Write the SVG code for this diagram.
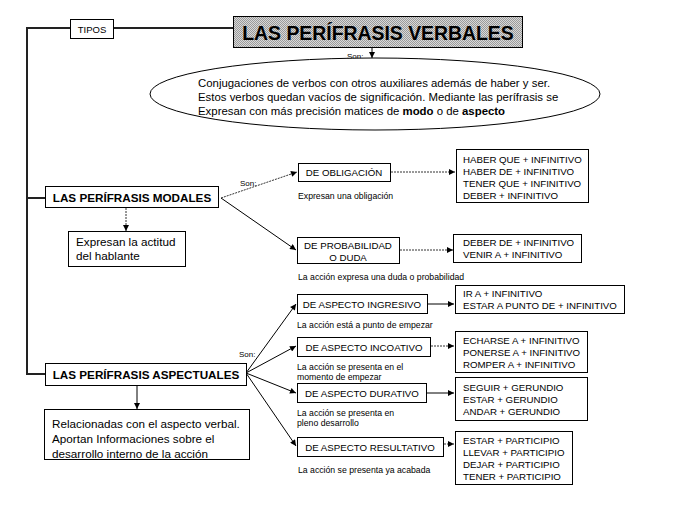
<svg xmlns="http://www.w3.org/2000/svg" width="698" height="521" viewBox="0 0 698 521">
<style>
text{font-family:"Liberation Sans",Arial,sans-serif;fill:#000}
.box{fill:#fff;stroke:#000;stroke-width:1}
.t12{font-size:11.7px}
.te{font-size:11.4px}
.t11{font-size:9.7px}
.t9{font-size:8.7px}
.son{font-size:8px}
.b{font-weight:bold}
.c{text-anchor:middle}
.ln{fill:none;stroke:#000;stroke-width:1}
.dot{fill:none;stroke:#333;stroke-width:1;stroke-dasharray:2,1}
.thick{fill:none;stroke:#222;stroke-width:2}
</style>
<defs>
<marker id="ah" viewBox="0 0 10 10" refX="10" refY="5" markerWidth="7" markerHeight="6" orient="auto" markerUnits="userSpaceOnUse">
<path d="M0,0 L10,5 L0,10 z" fill="#000"/>
</marker>
<pattern id="gray" width="2" height="2" patternUnits="userSpaceOnUse">
<rect width="2" height="2" fill="#d8d8d8"/>
<rect width="1" height="1" fill="#9a9a9a"/>
<rect x="1" y="1" width="1" height="1" fill="#9a9a9a"/>
</pattern>
</defs>

<g id="connectors">
<polyline class="thick" points="70,28 27,28 27,374 45,374"/>
<line class="thick" x1="27" y1="198" x2="45" y2="198"/>
<line class="thick" x1="114" y1="28" x2="233" y2="28"/>
<line class="ln" x1="372" y1="47" x2="372" y2="58" marker-end="url(#ah)"/>
<line class="dot" x1="126" y1="208" x2="126" y2="231" marker-end="url(#ah)"/>
<line class="dot" x1="221" y1="198" x2="297" y2="172" marker-end="url(#ah)"/>
<line class="ln" x1="221" y1="198" x2="296" y2="250" marker-end="url(#ah)"/>
<line class="dot" x1="391" y1="172" x2="455" y2="172" marker-end="url(#ah)"/>
<line class="dot" x1="400" y1="250" x2="453" y2="250" marker-end="url(#ah)"/>
<line class="ln" x1="137" y1="386" x2="137" y2="409" marker-end="url(#ah)"/>
<line class="ln" x1="246" y1="373" x2="296" y2="304" marker-end="url(#ah)"/>
<line class="ln" x1="246" y1="373" x2="296" y2="346" marker-end="url(#ah)"/>
<line class="ln" x1="246" y1="373" x2="296" y2="393" marker-end="url(#ah)"/>
<line class="ln" x1="246" y1="373" x2="296" y2="446" marker-end="url(#ah)"/>
<line class="ln" x1="428" y1="304" x2="454" y2="304" marker-end="url(#ah)"/>
<line class="dot" x1="431" y1="346" x2="454" y2="346" marker-end="url(#ah)"/>
<line class="ln" x1="427" y1="393" x2="454" y2="393" marker-end="url(#ah)"/>
<line class="dot" x1="444" y1="444" x2="454" y2="444" marker-end="url(#ah)"/>
<text class="son" x="347" y="59">Son:</text>
<text class="son" x="240" y="186">Son:</text>
<text class="son" x="239" y="357">Son:</text>
</g>

<g id="tipos">
<rect class="box" x="70.5" y="19.5" width="43" height="19"/>
<text class="c" x="92" y="32.5" style="font-size:9.5px">TIPOS</text>
</g>

<g id="titulo">
<rect x="233.5" y="16.5" width="289" height="31" fill="url(#gray)" stroke="#000"/>
<text class="b c" x="378" y="39.5" style="font-size:19.4px">LAS PERÍFRASIS VERBALES</text>
</g>

<g id="definicion">
<ellipse cx="375" cy="94" rx="225" ry="36" fill="#fff" stroke="#000"/>
<text class="te" x="198" y="87">Conjugaciones de verbos con otros auxiliares además de haber y ser.</text>
<text class="te" x="198" y="101">Estos verbos quedan vacíos de significación. Mediante las perífrasis se</text>
<text class="te" x="198" y="115">Expresan con más precisión matices de <tspan class="b">modo</tspan> o de <tspan class="b">aspecto</tspan></text>
</g>

<g id="modales">
<rect class="box" x="45.5" y="186.5" width="173" height="21"/>
<text class="t12 b c" x="132" y="201.5">LAS PERÍFRASIS MODALES</text>
</g>

<g id="actitud">
<rect class="box" x="68.5" y="231.5" width="117" height="35"/>
<text class="t12" x="76" y="246">Expresan la actitud</text>
<text class="t12" x="76" y="260">del hablante</text>
</g>

<g id="obligacion">
<rect class="box" x="298.5" y="163.5" width="92" height="18"/>
<text class="t11 c" x="344" y="176">DE OBLIGACIÓN</text>
<text class="t9" x="298" y="199">Expresan una obligación</text>
</g>

<g id="obligacion-formas">
<rect class="box" x="456.5" y="149.5" width="132" height="53"/>
<text class="t11" x="463" y="163">HABER QUE + INFINITIVO</text>
<text class="t11" x="463" y="175">HABER DE + INFINITIVO</text>
<text class="t11" x="463" y="187">TENER QUE + INFINITIVO</text>
<text class="t11" x="463" y="199">DEBER + INFINITIVO</text>
</g>

<g id="probabilidad">
<rect class="box" x="297.5" y="237.5" width="102" height="26"/>
<text class="t11 c" x="348" y="249">DE PROBABILIDAD</text>
<text class="t11 c" x="348" y="261">O DUDA</text>
<text class="t9" x="298" y="280">La acción expresa una duda o probabilidad</text>
</g>

<g id="probabilidad-formas">
<rect class="box" x="453.5" y="234.5" width="128" height="28"/>
<text class="t11" x="463" y="246">DEBER DE + INFINITIVO</text>
<text class="t11" x="463" y="258">VENIR A + INFINITIVO</text>
</g>

<g id="aspectuales">
<rect class="box" x="45.5" y="363.5" width="201" height="22"/>
<text class="t12 b c" x="146" y="379">LAS PERÍFRASIS ASPECTUALES</text>
</g>

<g id="relacionadas">
<rect class="box" x="44.5" y="409.5" width="205" height="50"/>
<text class="t12" x="52" y="428">Relacionadas con el aspecto verbal.</text>
<text class="t12" x="52" y="443">Aportan Informaciones sobre el</text>
<text class="t12" x="52" y="458">desarrollo interno de la acción</text>
</g>

<g id="ingresivo">
<rect class="box" x="297.5" y="294.5" width="130" height="19"/>
<text class="t11 c" x="362" y="308">DE ASPECTO INGRESIVO</text>
<text class="t9" x="297" y="328">La acción está a punto de empezar</text>
</g>

<g id="ingresivo-formas">
<rect class="box" x="455.5" y="285.5" width="169" height="28"/>
<text class="t11" x="463" y="297">IR A + INFINITIVO</text>
<text class="t11" x="463" y="309">ESTAR A PUNTO DE + INFINITIVO</text>
</g>

<g id="incoativo">
<rect class="box" x="297.5" y="337.5" width="133" height="19"/>
<text class="t11 c" x="364" y="351">DE ASPECTO INCOATIVO</text>
<text class="t9" x="297" y="370">La acción se presenta en el</text>
<text class="t9" x="297" y="380">momento de empezar</text>
</g>

<g id="incoativo-formas">
<rect class="box" x="455.5" y="331.5" width="132" height="41"/>
<text class="t11" x="463" y="344">ECHARSE A + INFINITIVO</text>
<text class="t11" x="463" y="356">PONERSE A + INFINITIVO</text>
<text class="t11" x="463" y="368">ROMPER A + INFINITIVO</text>
</g>

<g id="durativo">
<rect class="box" x="297.5" y="383.5" width="129" height="19"/>
<text class="t11 c" x="362" y="397">DE ASPECTO DURATIVO</text>
<text class="t9" x="297" y="416">La acción se presenta en</text>
<text class="t9" x="297" y="426">pleno desarrollo</text>
</g>

<g id="durativo-formas">
<rect class="box" x="455.5" y="377.5" width="132" height="43"/>
<text class="t11" x="463" y="391">SEGUIR + GERUNDIO</text>
<text class="t11" x="463" y="403">ESTAR + GERUNDIO</text>
<text class="t11" x="463" y="415">ANDAR + GERUNDIO</text>
</g>

<g id="resultativo">
<rect class="box" x="297.5" y="437.5" width="146" height="19"/>
<text class="t11 c" x="370" y="451">DE ASPECTO RESULTATIVO</text>
<text class="t9" x="298" y="473">La acción se presenta ya acabada</text>
</g>

<g id="resultativo-formas">
<rect class="box" x="455.5" y="431.5" width="117" height="53"/>
<text class="t11" x="463" y="444">ESTAR + PARTICIPIO</text>
<text class="t11" x="463" y="456">LLEVAR + PARTICIPIO</text>
<text class="t11" x="463" y="468">DEJAR + PARTICIPIO</text>
<text class="t11" x="463" y="480">TENER + PARTICIPIO</text>
</g>
</svg>
